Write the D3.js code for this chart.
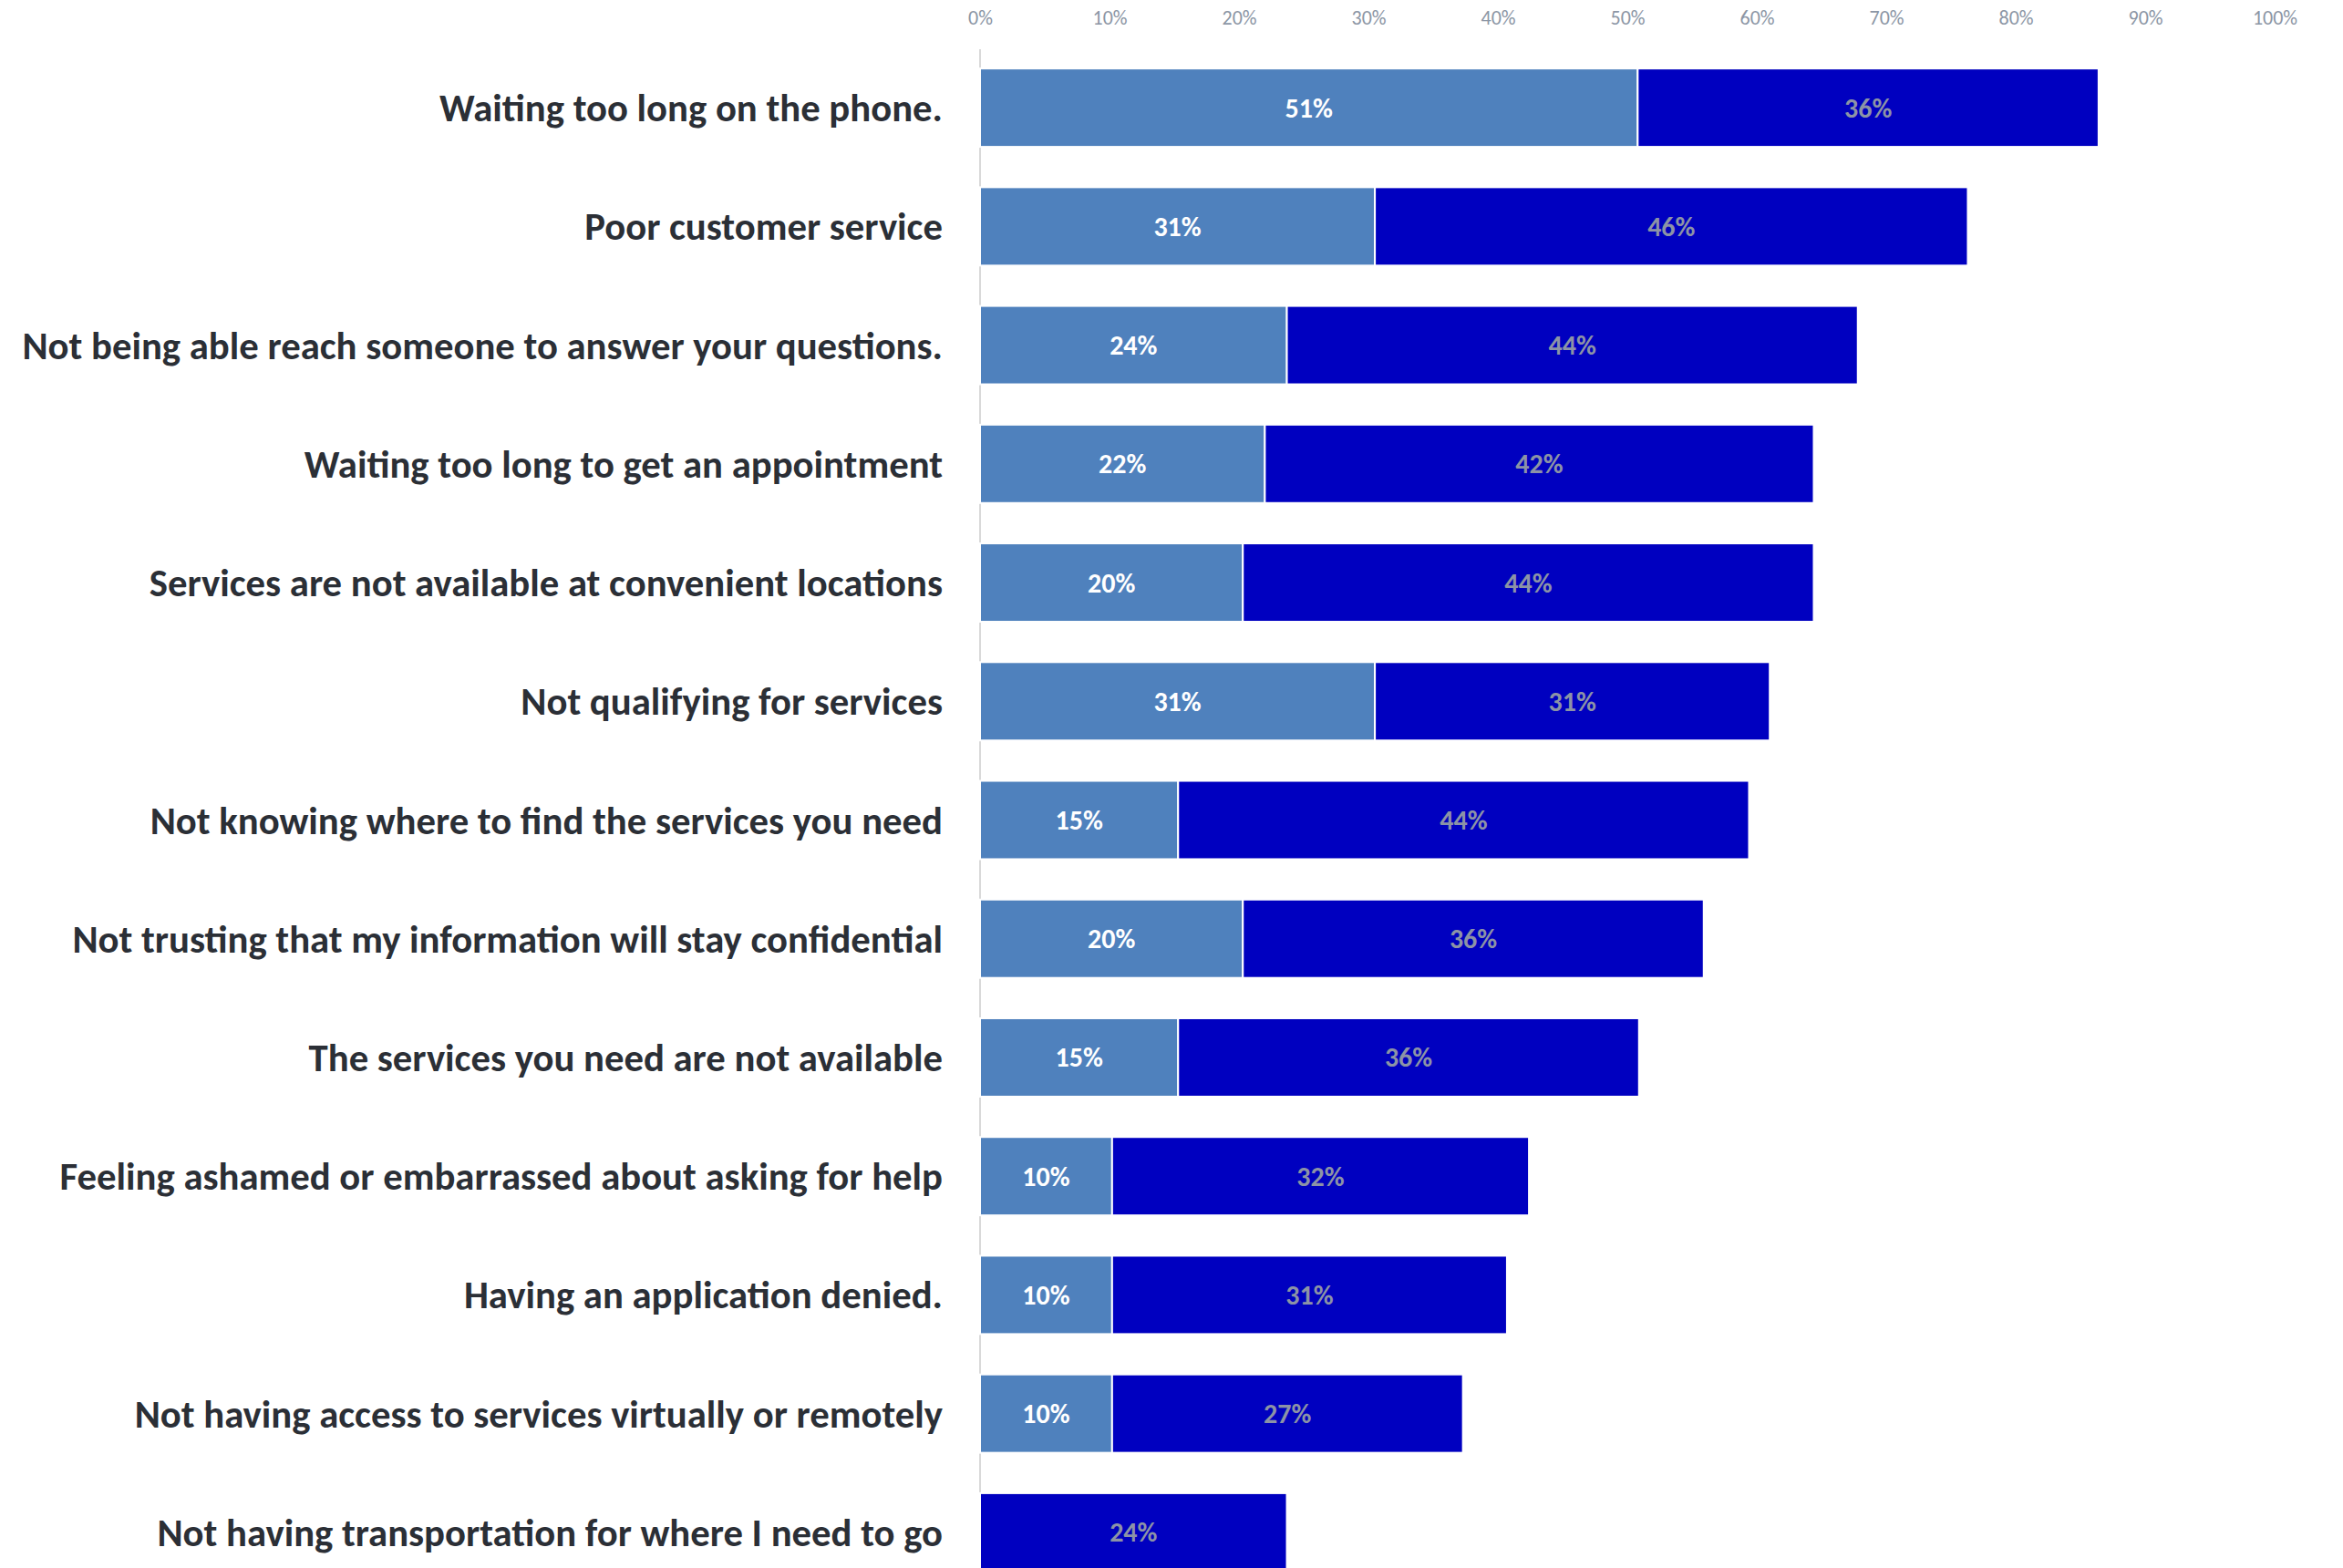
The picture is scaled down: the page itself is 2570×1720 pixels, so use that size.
<!DOCTYPE html>
<html>
<head>
<meta charset="utf-8">
<script src="https://cdn.jsdelivr.net/npm/d3@7"></script>
<style>
  html, body { margin: 0; padding: 0; background: #fff; }
  svg { display: block; }
</style>
</head>
<body>
<div id="chart"></div>
<script>
// categories, top to bottom
var categories = [
  'Waiting too long on the phone.',
  'Poor customer service',
  'Not being able reach someone to answer your questions.',
  'Waiting too long to get an appointment',
  'Services are not available at convenient locations',
  'Not qualifying for services',
  'Not knowing where to find the services you need',
  'Not trusting that my information will stay confidential',
  'The services you need are not available',
  'Feeling ashamed or embarrassed about asking for help',
  'Having an application denied.',
  'Not having access to services virtually or remotely',
  'Not having transportation for where I need to go'
]

// two series, percent of respondents
var seriesA = [50.8, 30.5, 23.7, 22.0, 20.3, 30.5, 15.3, 20.3, 15.3, 10.2, 10.2, 10.2, 0]
var seriesB = [35.6, 45.8, 44.1, 42.4, 44.1, 30.5, 44.1, 35.6, 35.6, 32.2, 30.5, 27.1, 23.7]

var tickValues = [0, 10, 20, 30, 40, 50, 60, 70, 80, 90, 100]

var W = 2570, H = 1720
var font = 'Carlito, "Liberation Sans Narrow", "Open Sans", sans-serif'

var svg = d3.select('#chart')
  .append('svg')
  .attr('width', W)
  .attr('height', H)

var x = d3.scaleLinear()
  .domain([0, 100])
  .range([1075, 2495])

var y = d3.scaleBand()
  .domain(categories)
  .range([53, 1746])
  .paddingInner(0.34)
  .paddingOuter(0.17)

var rows = categories.map(function(c, i) {
  return { cat: c, a: seriesA[i], b: seriesB[i] }
})

var stack = d3.stack().keys(['a', 'b'])
var layers = stack(rows)

var colors = { a: '#4f81bd', b: '#0000c0' }
var labelColors = { a: '#ffffff', b: '#8c93a6' }

// top axis
var xAxis = d3.axisTop(x)
  .tickValues(tickValues)
  .tickSize(0)
  .tickFormat(function(d) { return d + '%' })

svg.append('g')
  .attr('class', 'x-axis')
  .attr('transform', 'translate(0,30)')
  .call(xAxis)
  .call(function(g) { g.select('.domain').remove() })
  .selectAll('text')
  .attr('fill', '#8c96a5')
  .attr('font-family', font)
  .attr('font-size', 22)

// vertical baseline
svg.append('line')
  .attr('x1', x(0)).attr('x2', x(0))
  .attr('y1', 54).attr('y2', H)
  .attr('stroke', '#d9d9d9')
  .attr('stroke-width', 2)

// bars
var layer = svg.selectAll('g.layer')
  .data(layers)
  .enter()
  .append('g')
  .attr('class', 'layer')

layer.selectAll('rect')
  .data(function(l) { return l.map(function(d) { return { key: l.key, d: d } }) })
  .enter()
  .append('rect')
  .filter(function(o) { return o.d[1] - o.d[0] > 0 })
  .attr('x', function(o) { return x(o.d[0]) })
  .attr('y', function(o) { return y(o.d.data.cat) })
  .attr('width', function(o) { return x(o.d[1]) - x(o.d[0]) })
  .attr('height', y.bandwidth())
  .attr('fill', function(o) { return colors[o.key] })
  .attr('stroke', '#ffffff')
  .attr('stroke-width', 2)

// value labels
layer.selectAll('text')
  .data(function(l) { return l.map(function(d) { return { key: l.key, d: d } }) })
  .enter()
  .filter(function(o) { return o.d[1] - o.d[0] > 0 })
  .append('text')
  .attr('x', function(o) { return (x(o.d[0]) + x(o.d[1])) / 2 })
  .attr('y', function(o) { return y(o.d.data.cat) + y.bandwidth() / 2 })
  .attr('text-anchor', 'middle')
  .attr('dominant-baseline', 'central')
  .attr('fill', function(o) { return labelColors[o.key] })
  .attr('font-family', font)
  .attr('font-weight', 700)
  .attr('font-size', 30)
  .text(function(o) { return Math.round(o.d[1] - o.d[0]) + '%' })

// category labels
var labels = svg.append('g')
  .attr('class', 'y-labels')
  .selectAll('text')
  .data(categories)
  .enter()
  .append('text')
  .attr('x', 1034)
  .attr('y', function(d) { return y(d) + y.bandwidth() / 2 })
  .attr('text-anchor', 'end')
  .attr('dominant-baseline', 'central')
  .attr('fill', '#2b2f36')
  .attr('font-family', font)
  .attr('font-weight', 700)
  .attr('font-size', 40)
  .text(function(d) { return d })

// scale font so the longest label spans the same width as the reference
var longest = d3.max(labels.nodes(), function(n) { return n.getComputedTextLength() })
labels.attr('font-size', 40 * 1010 / longest)
</script>
</body>
</html>
